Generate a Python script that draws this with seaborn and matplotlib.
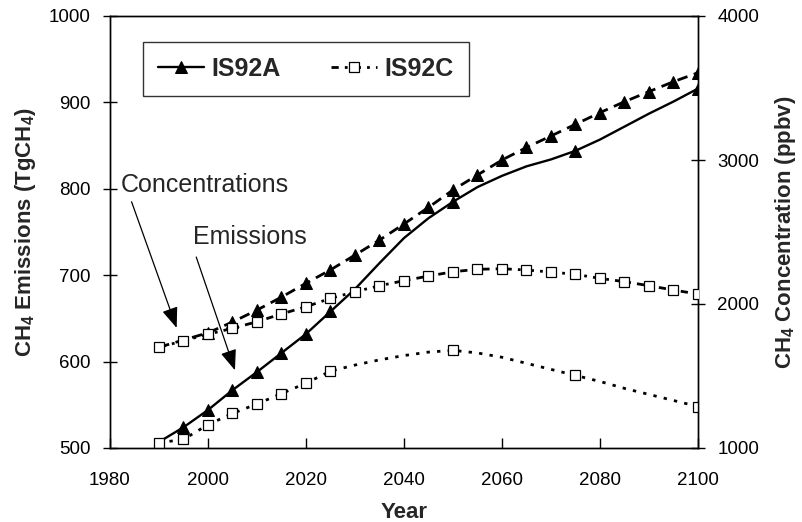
import matplotlib
matplotlib.use("Agg")
import matplotlib.pyplot as plt
import seaborn as sns
import numpy as np
import pandas as pd

# ---------------- data ----------------
years = [1990, 1995, 2000, 2005, 2010, 2015, 2020, 2025, 2030, 2035, 2040, 2045,
         2050, 2055, 2060, 2065, 2070, 2075, 2080, 2085, 2090, 2095, 2100]

is92a_emis = [507, 524, 544, 567, 588, 610, 632, 658, 684, 714, 743, 766,
              785, 802, 815, 826, 834, 844, 857, 872, 887, 901, 916]
is92c_emis = [506, 510, 527, 540, 551, 563, 575, 589, 596, 602, 607, 611,
              613, 610, 605, 598, 591, 584, 577, 569, 562, 555, 548]
is92a_conc = [1700, 1750, 1800, 1875, 1958, 2048, 2144, 2237, 2340, 2444, 2556, 2671,
              2792, 2896, 3000, 3087, 3167, 3248, 3329, 3405, 3475, 3544, 3606]
is92c_conc = [1699, 1745, 1790, 1831, 1877, 1931, 1981, 2039, 2085, 2127, 2162, 2194,
              2224, 2241, 2245, 2236, 2222, 2206, 2178, 2155, 2127, 2097, 2069]

# years at which emission markers are shown
emis_marker_years_a = [1995, 2000, 2005, 2010, 2015, 2020, 2025, 2050, 2075, 2100]
emis_marker_years_c = [1990, 1995, 2000, 2005, 2010, 2015, 2020, 2025, 2050, 2075, 2100]
conc_marker_start_a = 2000

series_names = ["IS92A", "IS92C"]
annot_labels = ["Concentrations", "Emissions"]

x_ticks = [1980, 2000, 2020, 2040, 2060, 2080, 2100]
left_ticks = [500, 600, 700, 800, 900, 1000]
right_ticks = [1000, 2000, 3000, 4000]

# ---------------- style ----------------
sns.set_theme(style="white")
plt.rcParams["font.family"] = ["Liberation Sans", "DejaVu Sans"]
plt.rcParams["mathtext.default"] = "regular"
plt.rcParams["axes.edgecolor"] = "black"
plt.rcParams["axes.linewidth"] = 1.0

df = pd.DataFrame({"year": years, "a_emis": is92a_emis, "c_emis": is92c_emis,
                   "a_conc": is92a_conc, "c_conc": is92c_conc})

fig = plt.figure(figsize=(8.03, 5.22), dpi=100)
ax = fig.add_axes([110 / 803, 1 - 448 / 522, 588 / 803, 432 / 522])
ax2 = ax.twinx()

idx_a = [years.index(y) for y in emis_marker_years_a]
idx_c = [years.index(y) for y in emis_marker_years_c]
idx_conc_a = list(range(years.index(conc_marker_start_a), len(years)))

# emissions (left axis)
sns.lineplot(data=df, x="year", y="a_emis", ax=ax, color="black", linewidth=1.7,
             linestyle="-", marker="^", markersize=9, markevery=idx_a,
             markeredgecolor="black", markerfacecolor="black", zorder=3)
sns.lineplot(data=df, x="year", y="c_emis", ax=ax, color="black", linewidth=2.0,
             linestyle=(0, (1.2, 2.6)), marker="s", markersize=7.5, markevery=idx_c,
             markeredgecolor="black", markerfacecolor="white", markeredgewidth=0.9,
             zorder=4)

# concentrations (right axis)
sns.lineplot(data=df, x="year", y="a_conc", ax=ax2, color="black", linewidth=2.0,
             linestyle=(0, (3.8, 2.4)), marker="^", markersize=9, markevery=idx_conc_a,
             markeredgecolor="black", markerfacecolor="black", zorder=3)
sns.lineplot(data=df, x="year", y="c_conc", ax=ax2, color="black", linewidth=2.0,
             linestyle=(0, (2.6, 2.2, 1.0, 2.2)), marker="s", markersize=7.5,
             markeredgecolor="black", markerfacecolor="white", markeredgewidth=0.9,
             zorder=4)

# axes limits and ticks
ax.set_xlim(1980, 2100)
ax.set_ylim(500, 1000)
ax2.set_ylim(1000, 4000)
ax.set_xticks(x_ticks)
ax.set_yticks(left_ticks)
ax2.set_yticks(right_ticks)

ax.tick_params(axis="y", direction="inout", length=10, width=1, colors="black",
               labelsize=13.5, pad=9, left=True)
ax.tick_params(axis="x", direction="in", length=7, width=1, colors="black",
               labelsize=13.5, pad=17, bottom=True)
ax2.tick_params(axis="y", direction="inout", length=10, width=1, colors="black",
                labelsize=13.5, pad=9, right=True)

for a in (ax, ax2):
    for s in a.spines.values():
        s.set_visible(True)
        s.set_color("black")
        s.set_linewidth(1.0)

ax.set_xlabel("Year", fontsize=16, fontweight="bold", labelpad=10)
ax.set_ylabel("CH$_4$ Emissions (TgCH$_4$)", fontsize=16, fontweight="bold", labelpad=8)
ax2.set_ylabel("CH$_4$ Concentration (ppbv)", fontsize=16, fontweight="bold", labelpad=10)

# legend
line_a = ax.get_lines()[0]
line_c = ax2.get_lines()[1]
leg = ax.legend([line_a, line_c], series_names, loc="upper left",
                bbox_to_anchor=(0.056, 0.94), ncol=2, frameon=True, fancybox=False,
                prop={"weight": "bold", "size": 18, "family": "Liberation Sans"},
                handlelength=1.85, handletextpad=0.3, columnspacing=2.0,
                borderpad=0.6, borderaxespad=0)
leg.get_frame().set_edgecolor("black")
leg.get_frame().set_linewidth(1.0)
leg.set_zorder(10)

# annotations
arrow_kw = dict(arrowstyle="-|>,head_length=0.9,head_width=0.35", color="black",
                lw=0.9, mutation_scale=14, shrinkA=0, shrinkB=0)
ax.text(1982.2, 804, annot_labels[0], fontsize=18, va="center", ha="left")
ax.annotate("", xy=(1993.6, 639), xytext=(1984.4, 785), arrowprops=arrow_kw)
ax.text(1997.0, 744, annot_labels[1], fontsize=18, va="center", ha="left")
ax.annotate("", xy=(2005.5, 590), xytext=(1997.6, 721), arrowprops=arrow_kw)

fig.savefig("out.png", dpi=100)
